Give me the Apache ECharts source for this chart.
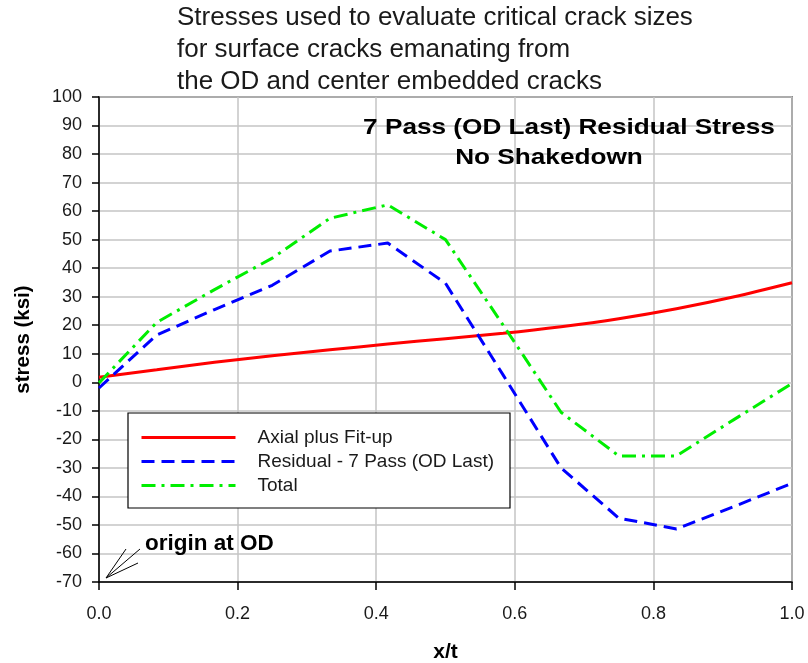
<!DOCTYPE html>
<html>
<head>
<meta charset="utf-8">
<script src="https://cdn.jsdelivr.net/npm/echarts@6/dist/echarts.min.js"></script>
<style>html,body{margin:0;padding:0;background:#fff}#c{width:808px;height:663px}</style>
</head>
<body>
<div id="c"></div>
<script>
var xPos = [0, 0.0833, 0.1667, 0.25, 0.3333, 0.4167, 0.5, 0.5833, 0.6667, 0.75, 0.8333, 0.9167, 1.0];
var axialFitup = [1.8, 4.4, 7.0, 9.3, 11.4, 13.4, 15.3, 17.2, 19.5, 22.3, 25.8, 30.0, 34.9];
var residual = [-2.0, 16.6, 25.5, 34.0, 46.0, 48.8, 34.7, 2.5, -30.0, -47.6, -51.4, -43.5, -35.4];
var total = [-0.2, 21.0, 32.5, 43.5, 57.5, 62.2, 50.0, 20.0, -10.5, -25.8, -25.8, -13.0, -0.4];
var xTicks = ['0.0', '0.2', '0.4', '0.6', '0.8', '1.0'];
var yTicks = [-70, -60, -50, -40, -30, -20, -10, 0, 10, 20, 30, 40, 50, 60, 70, 80, 90, 100];
var seriesNames = ['Axial plus Fit-up', 'Residual - 7 Pass (OD Last)', 'Total'];
var titleLines = ['Stresses used to evaluate critical crack sizes', 'for surface cracks emanating from', 'the OD and center embedded cracks'];
var subtitleLines = ['7 Pass (OD Last) Residual Stress', 'No Shakedown'];

function pairs(vals) { return xPos.map(function (x, i) { return [x, vals[i]]; }); }

var FONT = '"Liberation Sans", Arial, sans-serif';
var TXT = '#1a1a1a';
var chart = echarts.init(document.getElementById('c'), null, { renderer: 'canvas' });

var graphics = [
  { type: 'rect', shape: { x: 128, y: 413, width: 382, height: 95 }, style: { fill: '#fff', stroke: '#000', lineWidth: 1.2 }, z: 3 },
  { type: 'text', x: 145, y: 544, style: { text: 'origin at OD', font: 'bold 22.5px ' + FONT, fill: '#000', verticalAlign: 'middle' }, z: 60 },
  { type: 'line', shape: { x1: 106, y1: 578, x2: 126, y2: 549 }, style: { stroke: '#000', lineWidth: 1 }, z: 60 },
  { type: 'line', shape: { x1: 106, y1: 578, x2: 140, y2: 549 }, style: { stroke: '#000', lineWidth: 1 }, z: 60 },
  { type: 'line', shape: { x1: 106, y1: 578, x2: 138, y2: 563 }, style: { stroke: '#000', lineWidth: 1 }, z: 60 }
];
var tY = [18, 50, 82];
titleLines.forEach(function (t, i) {
  graphics.push({ type: 'text', x: 177, y: tY[i], style: { text: t, font: '26px ' + FONT, fill: TXT, verticalAlign: 'middle' }, z: 60 });
});
var sX = [569, 549], sY = [128, 158];
subtitleLines.forEach(function (t, i) {
  graphics.push({ type: 'text', x: sX[i], y: sY[i], scaleX: 1.19, style: { text: t, font: 'bold 22px ' + FONT, fill: '#000', align: 'center', verticalAlign: 'middle' }, z: 60 });
});

chart.setOption({
  animation: false,
  backgroundColor: '#ffffff',
  textStyle: { fontFamily: FONT },
  grid: { left: 99, right: 16, top: 97, bottom: 81, show: true, borderColor: '#333', borderWidth: 1.5, containLabel: false, outerBoundsMode: 'none' },
  legend: {
    orient: 'vertical', left: 135, top: 423, itemWidth: 94, itemHeight: 14, itemGap: 5, z: 10,
    data: seriesNames,
    itemStyle: { opacity: 0 },
    lineStyle: { width: 3 },
    textStyle: { fontFamily: FONT, fontSize: 19, color: TXT, padding: [0, 0, 0, 17] }
  },
  xAxis: {
    type: 'value', min: 0, max: 1, interval: 0.2,
    name: 'x/t', nameLocation: 'middle', nameGap: 60,
    nameTextStyle: { fontFamily: FONT, fontSize: 21, fontWeight: 'bold', color: '#000' },
    axisLine: { onZero: false, lineStyle: { color: '#000', width: 1.5 } },
    axisTick: { show: true, length: 8, lineStyle: { color: '#000', width: 1.5 } },
    axisLabel: { fontFamily: FONT, fontSize: 18, color: TXT, margin: 23, formatter: function (v) { return v.toFixed(1); } },
    splitLine: { show: true, lineStyle: { color: '#c4c4c4', width: 1.5 } }
  },
  yAxis: {
    type: 'value', min: -70, max: 100, interval: 10,
    name: 'stress (ksi)', nameLocation: 'middle', nameGap: 65, nameRotate: 90,
    nameTextStyle: { fontFamily: FONT, fontSize: 20.5, fontWeight: 'bold', color: '#000' },
    axisLine: { show: true, onZero: false, lineStyle: { color: '#000', width: 1.5 } },
    axisTick: { show: true, length: 7, lineStyle: { color: '#000', width: 1.5 } },
    axisLabel: { fontFamily: FONT, fontSize: 18, color: TXT, margin: 17 },
    splitLine: { show: true, lineStyle: { color: '#c4c4c4', width: 1.5 } }
  },
  series: [
    { name: seriesNames[0], type: 'line', data: pairs(axialFitup), showSymbol: false, symbol: 'none', smooth: 0.3,
      lineStyle: { color: '#ff0000', width: 3, type: 'solid' }, itemStyle: { color: '#ff0000' }, z: 2 },
    { name: seriesNames[1], type: 'line', data: pairs(residual), showSymbol: false, symbol: 'none',
      lineStyle: { color: '#0000ff', width: 3, type: [13, 7] }, itemStyle: { color: '#0000ff' }, z: 2 },
    { name: seriesNames[2], type: 'line', data: pairs(total), showSymbol: false, symbol: 'none',
      lineStyle: { color: '#00ee00', width: 3, type: [14, 6, 3, 6] }, itemStyle: { color: '#00ee00' }, z: 2 }
  ],
  graphic: graphics
});
</script>
</body>
</html>
